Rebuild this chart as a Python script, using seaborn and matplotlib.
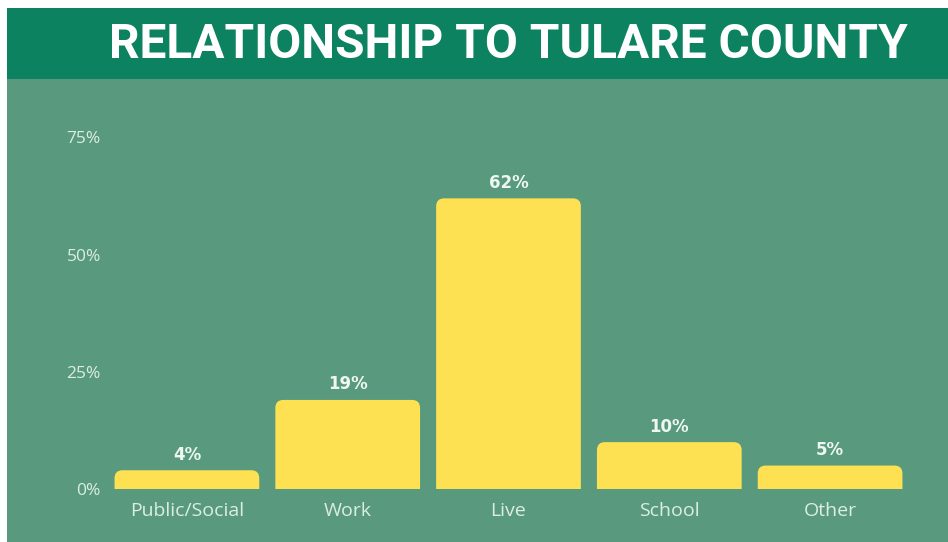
import matplotlib
matplotlib.use("Agg")
import matplotlib.pyplot as plt
from matplotlib.patches import Rectangle, FancyBboxPatch
from matplotlib import font_manager
import seaborn as sns
import pandas as pd

# Survey responses: relationship to Tulare County
categories = ["Public/Social", "Work", "Live", "School", "Other"]
shares = [4, 19, 62, 10, 5]
y_ticks = [0, 25, 50, 75]
y_tick_labels = ["0%", "25%", "50%", "75%"]
title = "RELATIONSHIP TO TULARE COUNTY"

BG = "#599A7E"
HEADER = "#0C8260"
BAR = "#FDE152"
TICK_TXT = "#DCEDE3"
VAL_TXT = "#EEF7F1"

sns.set_theme(style="white")
plt.rcParams["font.family"] = ["Open Sans", "DejaVu Sans"]

W, H = 948, 542
fig = plt.figure(figsize=(W / 100, H / 100), dpi=100, facecolor="white")

# panel background and header band (white margin on left and top)
fig.patches.append(Rectangle((7 / W, 0), 1 - 7 / W, 1 - 8 / H, transform=fig.transFigure,
                             facecolor=BG, edgecolor="none", zorder=-2))
fig.patches.append(Rectangle((7 / W, 1 - 79 / H), 1 - 7 / W, 71 / H, transform=fig.transFigure,
                             facecolor=HEADER, edgecolor="none", zorder=-1))

available = {f.name for f in font_manager.fontManager.ttflist}
title_family = [f for f in ["Roboto", "DejaVu Sans"] if f in available][0]
fig.text(508 / W, 1 - 45 / H, title, ha="center", va="center", color="white",
         fontsize=34.5, fontweight="bold", family=title_family)

# plot area: x from 106.5 to 910.5 px, y baseline at 489 px
left, right = 106.5 / W, 910.5 / W
bottom = (H - 489) / H
top = (H - 114) / H
ax = fig.add_axes([left, bottom, right - left, top - bottom])
ax.set_facecolor("none")
ax.set_zorder(2)

df = pd.DataFrame({"category": categories, "share": shares})
sns.barplot(data=df, x="category", y="share", color=BAR, width=0.9, ax=ax,
            saturation=1, edgecolor="none")

ax.set_xlim(-0.5, len(categories) - 0.5)
ax.set_ylim(0, 80)

# swap the square bars for ones with rounded top corners
px_x = (910.5 - 106.5) / len(categories)
px_y = (489 - 114) / 80
r_px = 8
rx = r_px / px_x
ry = r_px / px_y
for bar, val in zip(list(ax.patches), shares):
    x0, w, h = bar.get_x(), bar.get_width(), bar.get_height()
    bar.set_visible(False)
    rounded = FancyBboxPatch((x0, -ry * 2), w, h + ry * 2,
                             boxstyle=f"round,pad=0,rounding_size={rx}",
                             mutation_aspect=ry / rx, facecolor=BAR, edgecolor="none")
    ax.add_patch(rounded)
    ax.text(x0 + w / 2, h + 1.4, f"{val}%", ha="center", va="bottom",
            color=VAL_TXT, fontsize=12, fontweight="bold", family="DejaVu Sans")

ax.set_yticks(y_ticks)
ax.set_yticklabels(y_tick_labels)
ax.tick_params(axis="y", length=0, pad=4, labelsize=12.5, labelcolor=TICK_TXT)
ax.tick_params(axis="x", length=0, pad=9, labelsize=14, labelcolor=TICK_TXT)
ax.set_xlabel("")
ax.set_ylabel("")
for s in ax.spines.values():
    s.set_visible(False)

fig.savefig("out.png", dpi=100, facecolor="white")
